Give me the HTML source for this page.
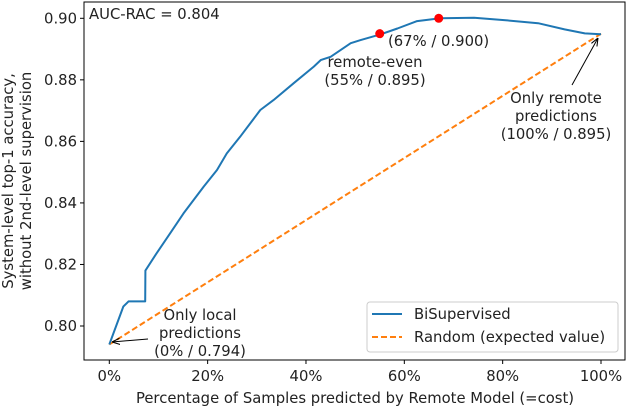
<!DOCTYPE html>
<html><head><meta charset="utf-8"><style>
html,body{margin:0;padding:0;background:#fff}
svg{display:block;font-family:"DejaVu Sans","Liberation Sans",sans-serif}
</style></head><body>
<svg id="chart" width="628" height="406" viewBox="0 0 628 406" xmlns="http://www.w3.org/2000/svg">
<defs><marker id="ah" viewBox="0 0 10 10" refX="10" refY="5" markerWidth="8" markerHeight="8" orient="auto-start-reverse"><path d="M0,1 L10,5 L0,9" fill="none" stroke="#000" stroke-width="1.3"/></marker></defs>
<g id="plot"></g>
</svg>
<script>
const xTicks=[0,20,40,60,80,100];
const xTickLabels=["0%","20%","40%","60%","80%","100%"];
const yTicks=[0.80,0.82,0.84,0.86,0.88,0.90];
const yTickLabels=["0.80","0.82","0.84","0.86","0.88","0.90"];
const curveX=[0,2.85,3.9,7.3,7.35,9.6,12.4,15.1,19.2,21.9,23.9,26.6,30.7,33.4,37.5,41.6,43,45,49.1,51.1,55.2,58.6,62.6,67.3,74.2,80.3,87.2,92.6,96.7,100];
const curveY=[0.794,0.8063,0.808,0.808,0.818,0.8236,0.8302,0.8366,0.8453,0.8507,0.8561,0.8615,0.8702,0.8734,0.8789,0.8843,0.8864,0.8875,0.8919,0.8929,0.8948,0.8967,0.8991,0.900,0.9002,0.8994,0.8984,0.8964,0.8951,0.8948];
const randomX=[0,100];
const randomY=[0.794,0.895];
const markX=[55,67];
const markY=[0.895,0.900];

const NS="http://www.w3.org/2000/svg";
const g=document.getElementById('plot');
const X0=109.3,X1=601,YT=0.90,YTp=18.3,Ys=3077;
const FS=14.8;
const sx=v=>X0+(X1-X0)*v/100;
const sy=v=>YTp+(YT-v)*Ys;
function mk(tag,attrs,txt){const e=document.createElementNS(NS,tag);for(const k in attrs)e.setAttribute(k,attrs[k]);if(txt!=null)e.textContent=txt;g.appendChild(e);return e;}

let f=mk('rect',{x:84,y:2,width:541,height:358,fill:'none',stroke:'#000','stroke-width':1});



xTicks.forEach((t,i)=>{
 let l=mk('line',{x1:sx(t),x2:sx(t),y1:360,y2:364,stroke:'#000'});
 
 
 let tx=mk('text',{x:sx(t),y:381,'font-size':FS,'text-anchor':'middle',fill:'#222'},xTickLabels[i]);
 
 
});
yTicks.forEach((t,i)=>{
 let l=mk('line',{x1:80,x2:84,y1:sy(t),y2:sy(t),stroke:'#000'});
 
 
 let tx=mk('text',{x:77,y:sy(t)+5,'font-size':FS,'text-anchor':'end',fill:'#222'},yTickLabels[i]);
 
 
});

let rp=mk('path',{d:randomX.map((x,i)=>(i?'L':'M')+sx(x)+','+sy(randomY[i])).join(''),fill:'none',stroke:'#ff7f0e','stroke-width':2,'stroke-dasharray':'6,3'});


let cp=mk('path',{d:curveX.map((x,i)=>(i?'L':'M')+sx(x).toFixed(1)+','+sy(curveY[i]).toFixed(1)).join(''),fill:'none',stroke:'#1f77b4','stroke-width':2,'stroke-linejoin':'round'});


markX.forEach((x,i)=>{
 let c=mk('circle',{cx:sx(x),cy:sy(markY[i]),r:4.5,fill:'red'});
 
 
});

function txt(x,y,s,name,anchor){let t=mk('text',{x:x,y:y,'font-size':FS,'text-anchor':anchor||'start',fill:'#222'},s);return t;}
txt(89,19,'AUC-RAC = 0.804','auc-label');
txt(388,46,'(67% / 0.900)','max-point-label');
txt(375,67,'remote-even','remote-even-label','middle');
txt(375,85,'(55% / 0.895)','remote-even-value','middle');
txt(556,103,'Only remote','only-remote-label','middle');
txt(556,121,'predictions','only-remote-label-2','middle');
txt(556,139,'(100% / 0.895)','only-remote-value','middle');
txt(200,320,'Only local','only-local-label','middle');
txt(200,338,'predictions','only-local-label-2','middle');
txt(200,356,'(0% / 0.794)','only-local-value','middle');
let a1=mk('line',{x1:572,y1:85,x2:598,y2:38,stroke:'#000','stroke-width':1,'marker-end':'url(#ah)'});


let a2=mk('line',{x1:148,y1:339,x2:112,y2:342,stroke:'#000','stroke-width':1,'marker-end':'url(#ah)'});



txt(355,403,'Percentage of Samples predicted by Remote Model (=cost)','x-axis-title','middle');
let y1=mk('text',{transform:'translate(13,181) rotate(-90)','font-size':FS,'text-anchor':'middle',fill:'#222'},'System-level top-1 accuracy,');


let y2=mk('text',{transform:'translate(31,181) rotate(-90)','font-size':FS,'text-anchor':'middle',fill:'#222'},'without 2nd-level supervision');



let lg=mk('rect',{x:367,y:302,width:251,height:50,rx:3,fill:'#fff','fill-opacity':0.8,stroke:'#ccc'});


let l1=mk('line',{x1:372,x2:402,y1:314,y2:314,stroke:'#1f77b4','stroke-width':2});


txt(414,319,'BiSupervised','legend-entry-bisupervised');
let l2=mk('line',{x1:372,x2:402,y1:337,y2:337,stroke:'#ff7f0e','stroke-width':2,'stroke-dasharray':'6,3'});


txt(414,342,'Random (expected value)','legend-entry-random');
</script>
</body></html>
